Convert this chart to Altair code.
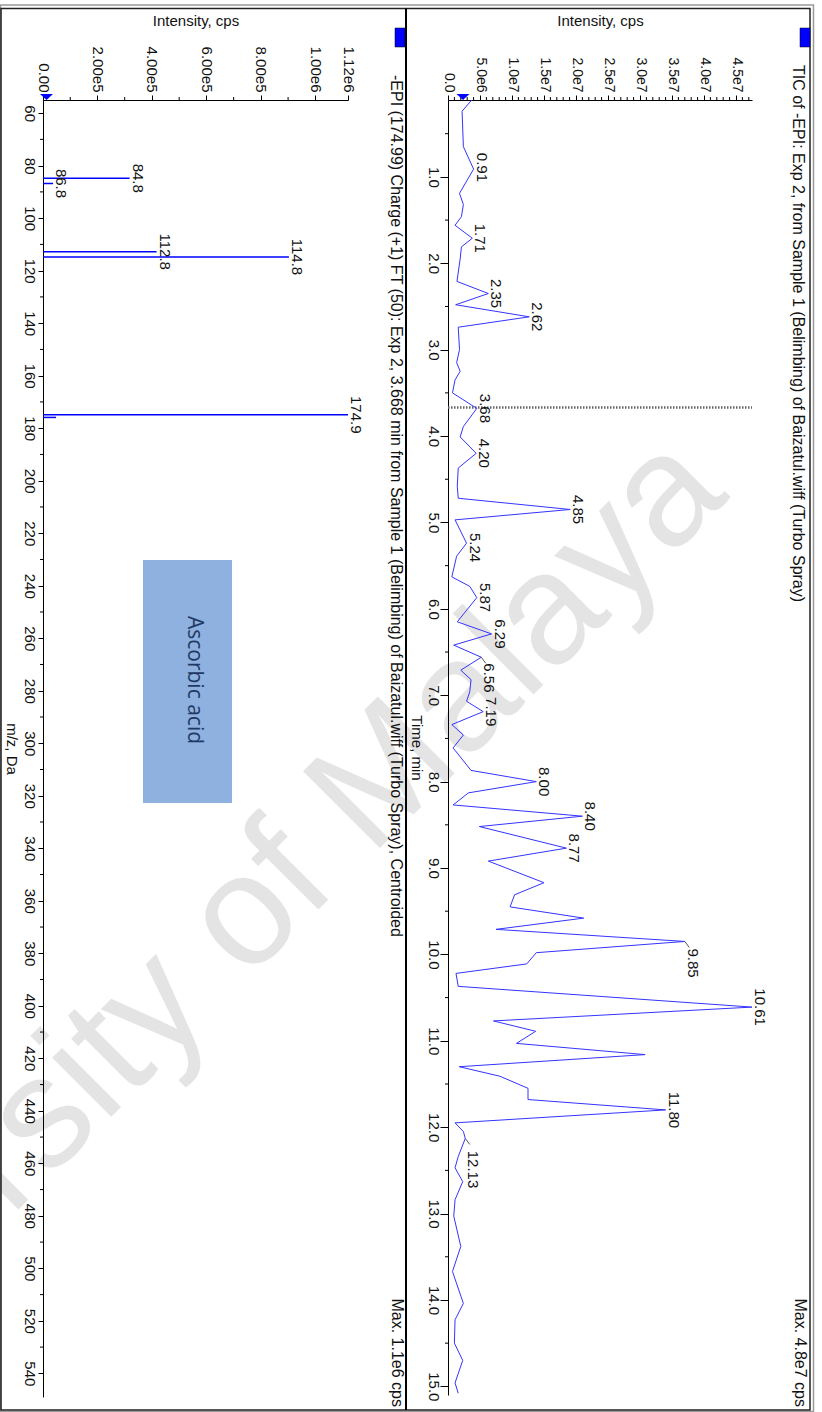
import altair as alt
import pandas as pd

FONT = "Liberation Sans"

# ---------------- TIC chromatogram: retention time (min) vs intensity (cps) ----------------
tic_time = [0.11, 0.24, 0.65, 0.91, 1.19, 1.32, 1.46, 1.56, 1.71, 1.81,
            1.95, 2.21, 2.35, 2.48, 2.62, 2.74, 3.00, 3.15, 3.25, 3.35,
            3.50, 3.68, 3.89, 4.01, 4.20, 4.37, 4.58, 4.72, 4.85, 4.97,
            5.24, 5.39, 5.63, 5.74, 5.87, 6.15, 6.29, 6.42, 6.56, 6.71,
            6.82, 6.96, 7.07, 7.19, 7.34, 7.46, 7.61, 7.87, 8.00, 8.13,
            8.27, 8.40, 8.52, 8.77, 8.92, 9.17, 9.31, 9.45, 9.58, 9.71,
            9.85, 9.98, 10.11, 10.22, 10.37, 10.61, 10.77, 10.89, 11.03, 11.16,
            11.30, 11.41, 11.55, 11.68, 11.80, 11.95, 12.05, 12.13, 12.34, 12.47,
            12.63, 12.84, 13.03, 13.38, 13.67, 14.04, 14.23, 14.50, 14.70, 14.96,
            15.08]
tic_intensity = [3.7e6, 2.2e6, 2.4e6, 4.0e6, 1.8e6, 2.4e6, 2.1e6, 1.1e6, 3.8e6, 2.1e6,
                 1.9e6, 1.4e6, 6.3e6, 1.2e6, 1.27e7, 1.6e6, 1.8e6, 1.35e6, 1.9e6, 1.1e6,
                 0.7e6, 4.5e6, 2.4e6, 1.9e6, 4.4e6, 1.6e6, 1.45e6, 1.6e6, 1.91e7, 1.1e6,
                 2.9e6, 1.35e6, 0.6e6, 3.4e6, 4.5e6, 1.45e6, 6.8e6, 0.9e6, 5.2e6, 2.0e6,
                 3.6e6, 3.4e6, 2.9e6, 5.5e6, 0.6e6, 2.4e6, 0.8e6, 3.6e6, 1.38e7, 3.2e6,
                 0.8e6, 2.10e7, 4.9e6, 1.85e7, 6.3e6, 1.50e7, 1.04e7, 9.7e6, 2.12e7, 7.5e6,
                 3.70e7, 1.38e7, 1.23e7, 1.25e6, 1.6e6, 4.75e7, 7.1e6, 1.37e7, 1.07e7, 3.08e7,
                 1.76e6, 8.1e6, 1.25e7, 1.25e7, 3.40e7, 1.1e6, 2.4e6, 2.7e6, 1.6e6, 1.1e6,
                 2.3e6, 1.1e6, 0.9e6, 2.0e6, 0.7e6, 2.4e6, 1.1e6, 1.0e6, 2.3e6, 1.1e6,
                 1.6e6]

# labelled apexes and how far (min) each label is slid along the time axis
tic_peak_labels = ["0.91", "1.71", "2.35", "2.62", "3.68", "4.20", "4.85", "5.24", "5.87", "6.29",
                   "6.56", "7.19", "8.00", "8.40", "8.77", "9.85", "10.61", "11.80", "12.13"]
tic_label_shift = [-0.02, 0, 0, 0, 0, 0, 0, 0.05, 0, 0,
                   0.24, 0, 0, 0, 0, 0.25, 0, 0, 0.36]
tic_leader_labels = ["6.56", "9.85", "12.13"]
cursor_time = [3.668]

# axis ticks
tic_time_ticks = [1.0, 2.0, 3.0, 4.0, 5.0, 6.0, 7.0, 8.0, 9.0, 10.0, 11.0, 12.0, 13.0, 14.0, 15.0]
tic_time_minor = [0.5, 1.5, 2.5, 3.5, 4.5, 5.5, 6.5, 7.5, 8.5, 9.5, 10.5, 11.5, 12.5, 13.5, 14.5]
tic_int_ticks = [0, 5e6, 1e7, 1.5e7, 2e7, 2.5e7, 3e7, 3.5e7, 4e7, 4.5e7]
tic_int_minor = [k * 1e6 for k in range(1, 48) if k % 5 != 0]

# ---------------- Product-ion spectrum of m/z 174.99 ----------------
ms_mz = [84.8, 86.8, 112.8, 114.8, 174.9, 175.9]
ms_intensity = [3.18e5, 3.7e4, 4.17e5, 9.03e5, 1.12e6, 4.8e4]
ms_peak_labels = ["84.8", "86.8", "112.8", "114.8", "174.9"]

ms_mz_ticks = [60, 80, 100, 120, 140, 160, 180, 200, 220, 240, 260, 280, 300,
               320, 340, 360, 380, 400, 420, 440, 460, 480, 500, 520, 540]
ms_mz_minor = [70, 90, 110, 130, 150, 170, 190, 210, 230, 250, 270, 290, 310,
               330, 350, 370, 390, 410, 430, 450, 470, 490, 510, 530]
ms_int_ticks = [0, 2e5, 4e5, 6e5, 8e5, 1e6, 1.12e6]
ms_int_minor = [1e5, 3e5, 5e5, 7e5, 9e5]

# ---------------- scales: two panels share one view, each on its own pixel range ----------------
def ms_x():
    return alt.Scale(domain=[0, 1.12e6], range=[0, 305], nice=False, zero=False)

def ms_y():
    return alt.Scale(domain=[55, 549], range=[0, 1297], nice=False, zero=False)

def tic_x():
    return alt.Scale(domain=[0, 4.75e7], range=[405, 709], nice=False, zero=False)

def tic_y():
    return alt.Scale(domain=[0.11, 15.1], range=[0, 1295], nice=False, zero=False)

INK = "#111"
common_axis = dict(grid=False, domainColor="#000", tickColor="#000", labelColor=INK,
                   titleColor=INK, labelFont=FONT, titleFont=FONT, titleFontWeight="normal",
                   labelOverlap=False, labelFlush=False, domainWidth=1, tickWidth=1)

ms_x_axis = alt.Axis(orient="top", values=ms_int_ticks,
                     labelExpr="datum.value == 0 ? '0.00' : (datum.value < 1e6 ? format(datum.value / 1e5, '.2f') + 'e5' : format(datum.value / 1e6, '.2f') + 'e6')",
                     labelAngle=90, labelAlign="right", labelBaseline="middle", labelFontSize=15,
                     tickSize=5, labelPadding=3, title="Intensity, cps", titleAngle=0,
                     titleX=152.5, titleY=-75, titleAlign="center", titleBaseline="alphabetic",
                     titleFontSize=15, **common_axis)
ms_y_axis = alt.Axis(orient="left", values=ms_mz_ticks, format="d", labelAngle=90,
                     labelAlign="center", labelBaseline="top", labelFontSize=15,
                     tickSize=5, labelPadding=2, title="m/z, Da", titleAngle=90,
                     titleX=-25, titleY=648.5, titleAlign="center", titleBaseline="top",
                     titleFontSize=15, **common_axis)
tic_x_axis = alt.Axis(orient="top", values=tic_int_ticks,
                      labelExpr="datum.value == 0 ? '0.0' : (datum.value < 1e7 ? format(datum.value / 1e6, '.1f') + 'e6' : format(datum.value / 1e7, '.1f') + 'e7')",
                      labelAngle=90, labelAlign="right", labelBaseline="middle", labelFontSize=14,
                      tickSize=5, labelPadding=3, title="Intensity, cps", titleAngle=0,
                      titleX=557, titleY=-75, titleAlign="center", titleBaseline="alphabetic",
                      titleFontSize=15, **common_axis)
tic_y_axis = alt.Axis(orient="left", offset=-405, values=tic_time_ticks, format=".1f",
                      labelAngle=90, labelAlign="center", labelBaseline="top", labelFontSize=15,
                      tickSize=8, labelPadding=0, title="Time, min", titleAngle=90,
                      titleX=-25, titleY=647.5, titleAlign="center", titleBaseline="top",
                      titleFontSize=15, **common_axis)

# ---------------- spectrum panel ----------------
ms_df = pd.DataFrame({"mz": ms_mz, "I": ms_intensity, "base": [0] * len(ms_mz)})
ms_lab_df = ms_df[ms_df["mz"].map(lambda v: f"{v:.1f}" in ms_peak_labels)].copy()
ms_lab_df["label"] = ms_lab_df["mz"].map(lambda v: f"{v:.1f}")

ms_sticks = alt.Chart(ms_df).mark_rule(color="#0000ff", strokeWidth=1.5).encode(
    x=alt.X("base:Q", scale=ms_x(), axis=ms_x_axis),
    x2="I:Q",
    y=alt.Y("mz:Q", scale=ms_y(), axis=ms_y_axis),
)
ms_text = alt.Chart(ms_lab_df).mark_text(angle=90, align="center", baseline="alphabetic", dy=-3,
                                          font=FONT, fontSize=15, color=INK).encode(
    x=alt.X("I:Q", scale=ms_x(), axis=None),
    y=alt.Y("mz:Q", scale=ms_y(), axis=None),
    text="label:N",
)
ms_minor_x = alt.Chart(pd.DataFrame({"v": ms_int_minor})).mark_rule(color="#000").encode(
    x=alt.X("v:Q", scale=ms_x(), axis=None), y=alt.value(-3), y2=alt.value(0))
ms_minor_y = alt.Chart(pd.DataFrame({"v": ms_mz_minor})).mark_rule(color="#000").encode(
    y=alt.Y("v:Q", scale=ms_y(), axis=None), x=alt.value(-3), x2=alt.value(0))

# ---------------- chromatogram panel ----------------
tic_df = pd.DataFrame({"t": tic_time, "I": tic_intensity})
apex = dict(zip(tic_time, tic_intensity))
tic_lab_df = pd.DataFrame({
    "label": tic_peak_labels,
    "t": [float(s) for s in tic_peak_labels],
    "shift": tic_label_shift,
})
tic_lab_df["I"] = tic_lab_df["t"].map(apex)
tic_lab_df["t_label"] = tic_lab_df["t"] + tic_lab_df["shift"]
lead_df = tic_lab_df[tic_lab_df["label"].isin(tic_leader_labels)].copy()
lead_df["t_end"] = lead_df["t"] + 0.07
lead_df["I_end"] = lead_df["I"] + 0.7e6

tic_line = alt.Chart(tic_df).mark_line(color="#3434ff", strokeWidth=1).encode(
    x=alt.X("I:Q", scale=tic_x(), axis=tic_x_axis),
    y=alt.Y("t:Q", scale=tic_y(), axis=tic_y_axis),
    order="t:Q",
)
tic_text = alt.Chart(tic_lab_df).mark_text(angle=90, align="center", baseline="alphabetic", dy=-3,
                                            font=FONT, fontSize=15, color=INK).encode(
    x=alt.X("I:Q", scale=tic_x(), axis=None),
    y=alt.Y("t_label:Q", scale=tic_y(), axis=None),
    text="label:N",
)
tic_leads = alt.Chart(lead_df).mark_rule(color="#555", strokeWidth=1).encode(
    x=alt.X("I:Q", scale=tic_x(), axis=None), x2="I_end:Q",
    y=alt.Y("t:Q", scale=tic_y(), axis=None), y2="t_end:Q",
)
cursor = alt.Chart(pd.DataFrame({"t": cursor_time, "a": [0], "b": [4.75e7]})).mark_rule(
    color="#666", strokeWidth=2.5, strokeDash=[1.5, 1.5]).encode(
    x=alt.X("a:Q", scale=tic_x(), axis=None), x2="b:Q",
    y=alt.Y("t:Q", scale=tic_y(), axis=None),
)
tic_minor_x = alt.Chart(pd.DataFrame({"v": tic_int_minor})).mark_rule(color="#000").encode(
    x=alt.X("v:Q", scale=tic_x(), axis=None), y=alt.value(-3), y2=alt.value(0))
tic_minor_y = alt.Chart(pd.DataFrame({"v": tic_time_minor})).mark_rule(color="#000").encode(
    y=alt.Y("v:Q", scale=tic_y(), axis=None), x=alt.value(402), x2=alt.value(405))

# ---------------- page furniture: watermark, frames, titles, markers ----------------
one = pd.DataFrame({"k": [0]})
# translucent so that axes beneath it stay dark
watermark = alt.Chart(one).mark_text(
    text="University of Malaya", angle=315, align="left", baseline="alphabetic",
    font=FONT, fontSize=158, color="#000", opacity=0.1).encode(x=alt.value(-318), y=alt.value(1403))

frame_outer = alt.Chart(one).mark_rect(fill="#fff", fillOpacity=0, stroke="#9a9a9a", strokeWidth=1.5).encode(
    x=alt.value(-42.5), x2=alt.value(770.5), y=alt.value(-95), y2=alt.value(1311.5))
frame_inner = alt.Chart(one).mark_rect(fill="#fff", fillOpacity=0, stroke="#222", strokeWidth=1.5).encode(
    x=alt.value(-42), x2=alt.value(767), y=alt.value(-91.5), y2=alt.value(1310))
divider = alt.Chart(one).mark_rule(color="#000", strokeWidth=2).encode(
    x=alt.value(363), y=alt.value(-91.5), y2=alt.value(1310))

ms_title = alt.Chart(one).mark_text(
    text="-EPI (174.99) Charge (+1) FT (50): Exp 2, 3.668 min from Sample 1 (Belimbing) of Baizatul.wiff (Turbo Spray), Centroided",
    angle=90, align="left", baseline="top", font=FONT, fontSize=16, color=INK).encode(
    x=alt.value(361), y=alt.value(-25))
ms_max = alt.Chart(one).mark_text(
    text="Max. 1.1e6 cps", angle=90, align="right", baseline="top", font=FONT, fontSize=16,
    color=INK).encode(x=alt.value(362), y=alt.value(1307))
tic_title = alt.Chart(one).mark_text(
    text="TIC of -EPI: Exp 2, from Sample 1 (Belimbing) of Baizatul.wiff (Turbo Spray)",
    angle=90, align="left", baseline="top", font=FONT, fontSize=16, color=INK).encode(
    x=alt.value(763), y=alt.value(-35))
tic_max = alt.Chart(one).mark_text(
    text="Max. 4.8e7 cps", angle=90, align="right", baseline="top", font=FONT, fontSize=16,
    color=INK).encode(x=alt.value(765), y=alt.value(1307))

badge_ms = alt.Chart(one).mark_rect(fill="#0000ff", stroke="#000", strokeWidth=0.5).encode(
    x=alt.value(352), x2=alt.value(362), y=alt.value(-72), y2=alt.value(-53))
badge_tic = alt.Chart(one).mark_rect(fill="#0000ff", stroke="#000", strokeWidth=0.5).encode(
    x=alt.value(757), x2=alt.value(767), y=alt.value(-72), y2=alt.value(-53))

tri = "M-1,-0.45L1,-0.45L0,0.45Z"
marker_ms = alt.Chart(one).mark_point(shape=tri, filled=True, color="#0000ff", size=169, opacity=1).encode(
    x=alt.value(3.5), y=alt.value(-3))
marker_tic = alt.Chart(one).mark_point(shape=tri, filled=True, color="#0000ff", size=169, opacity=1).encode(
    x=alt.value(420), y=alt.value(-3))

compound_box = alt.Chart(one).mark_rect(fill="#8eb1e0").encode(
    x=alt.value(100), x2=alt.value(189), y=alt.value(460), y2=alt.value(703))
compound_text = alt.Chart(one).mark_text(
    text="Ascorbic acid", angle=90, align="center", baseline="middle", font="Open Sans",
    fontSize=21, color="#1f3864").encode(x=alt.value(151), y=alt.value(580))

# one flat layer; every layer owns a scale built from the same domain/range
chart = alt.layer(
    watermark,
    ms_minor_x, ms_minor_y, ms_sticks, ms_text,
    tic_minor_x, tic_minor_y, cursor, tic_line, tic_leads, tic_text,
    frame_outer, frame_inner, divider,
    ms_title, ms_max, tic_title, tic_max,
    badge_ms, badge_tic, marker_ms, marker_tic,
    compound_box, compound_text,
).resolve_scale(
    x="independent", y="independent"
).resolve_axis(
    x="independent", y="independent"
).properties(
    width=779, height=1297,
    padding={"left": 43, "top": 100, "right": 0, "bottom": 15},
    autosize=alt.AutoSizeParams(type="none"),
    background="#ffffff",
).configure_view(stroke=None)

chart.save("out.html", embed_options={"renderer": "svg", "actions": False})
